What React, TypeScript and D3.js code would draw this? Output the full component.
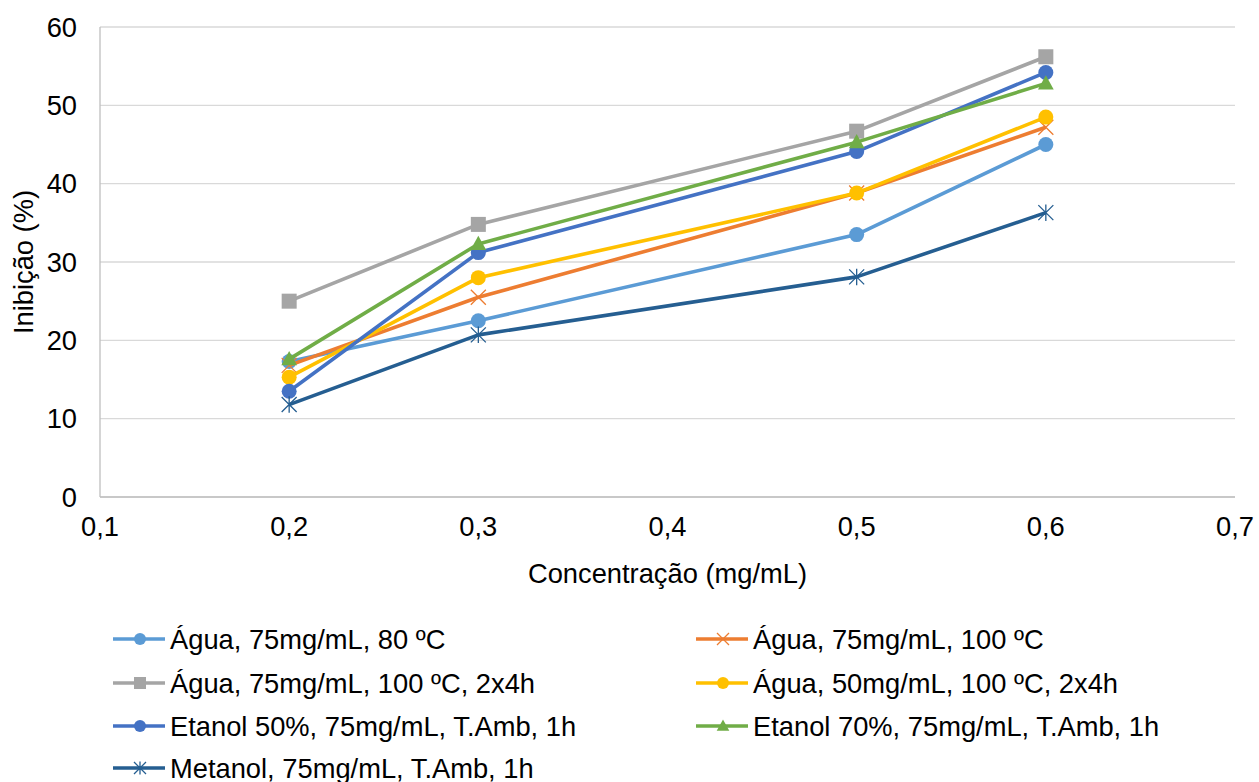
import React from "react";
import * as d3 from "d3";

const xValues = [0.2, 0.3, 0.5, 0.6];
const seriesNames = [
  "Água, 75mg/mL, 80 ºC",
  "Água, 75mg/mL, 100 ºC",
  "Água, 75mg/mL, 100 ºC, 2x4h",
  "Água, 50mg/mL, 100 ºC, 2x4h",
  "Etanol 50%, 75mg/mL, T.Amb, 1h",
  "Etanol 70%, 75mg/mL, T.Amb, 1h",
  "Metanol, 75mg/mL, T.Amb, 1h",
];
const s1 = [17.3, 22.5, 33.5, 45.0];
const s2 = [16.8, 25.5, 38.8, 47.2];
const s3 = [25.0, 34.8, 46.7, 56.2];
const s4 = [15.3, 28.0, 38.8, 48.5];
const s5 = [13.5, 31.2, 44.1, 54.2];
const s6 = [17.6, 32.3, 45.3, 52.8];
const s7 = [11.8, 20.7, 28.1, 36.3];
const seriesValues = [s1, s2, s3, s4, s5, s6, s7];
const colors = ["#5B9BD5", "#ED7D31", "#A5A5A5", "#FFC000", "#4472C4", "#70AD47", "#255E91"];
const markers = ["circle", "x", "square", "circle", "circle", "triangle", "star"];
const yTicks = [0, 10, 20, 30, 40, 50, 60];
const xTicks = [0.1, 0.2, 0.3, 0.4, 0.5, 0.6, 0.7];

function Marker({ type, cx, cy, color, s }: { type: string; cx: number; cy: number; color: string; s: number }) {
  if (type === "circle") return <circle cx={cx} cy={cy} r={s} fill={color} />;
  if (type === "square") return <rect x={cx - s} y={cy - s} width={2 * s} height={2 * s} fill={color} />;
  if (type === "triangle")
    return (
      <path
        d={`M${cx},${cy - s * 1.1} L${cx + s * 1.05},${cy + s * 0.8} L${cx - s * 1.05},${cy + s * 0.8} Z`}
        fill={color}
      />
    );
  if (type === "x")
    return (
      <path
        d={`M${cx - s},${cy - s} L${cx + s},${cy + s} M${cx - s},${cy + s} L${cx + s},${cy - s}`}
        stroke={color}
        strokeWidth={1.3}
        fill="none"
      />
    );
  if (type === "star")
    return (
      <path
        d={`M${cx - s},${cy - s} L${cx + s},${cy + s} M${cx - s},${cy + s} L${cx + s},${cy - s} M${cx},${cy - s * 1.1} L${cx},${cy + s * 1.1}`}
        stroke={color}
        strokeWidth={1.3}
        fill="none"
      />
    );
  return null;
}

export default function App() {
  const W = 1259;
  const H = 782;
  const left = 100, right = 1235, top = 27, bottom = 497;
  const x = d3.scaleLinear().domain([0.1, 0.7]).range([left, right]);
  const y = d3.scaleLinear().domain([0, 60]).range([bottom, top]);
  const line = d3
    .line<number>()
    .x((_, i) => x(xValues[i]))
    .y((d) => y(d));
  const font = "'Liberation Sans', Arial, sans-serif";
  const fs = 27.3;
  const fmt = (v: number) => (v === 0 ? "0" : v.toFixed(1).replace(".", ","));
  const legendCols = [113, 696];
  const legendRows = [639, 683, 726, 768];
  return (
    <svg width={W} height={H} style={{ position: "absolute", left: 0, top: 0, background: "#fff" }} fontFamily={font}>
      <rect width={W} height={H} fill="#fff" />
      {yTicks.map((t) => (
        <line key={t} x1={left} x2={right} y1={y(t)} y2={y(t)} stroke="#D9D9D9" strokeWidth={1.3} />
      ))}
      <line x1={left} x2={left} y1={top} y2={bottom} stroke="#BFBFBF" strokeWidth={1.3} />
      <line x1={left} x2={right} y1={bottom} y2={bottom} stroke="#BFBFBF" strokeWidth={1.3} />
      {yTicks.map((t) => (
        <text key={t} x={77} y={y(t)} dy="0.35em" textAnchor="end" fontSize={fs} fill="#000">
          {t}
        </text>
      ))}
      {xTicks.map((t) => (
        <text key={t} x={x(t)} y={526} dy="0.35em" textAnchor="middle" fontSize={fs} fill="#000">
          {fmt(t)}
        </text>
      ))}
      <text x={(left + right) / 2} y={573} dy="0.35em" textAnchor="middle" fontSize={fs} fill="#000">
        Concentração (mg/mL)
      </text>
      <text
        transform={`translate(23,${(top + bottom) / 2}) rotate(-90)`}
        dy="0.35em"
        textAnchor="middle"
        fontSize={fs}
        fill="#000"
      >
        Inibição (%)
      </text>
      {seriesValues.map((vals, si) => (
        <g key={si}>
          <path d={line(vals) || ""} fill="none" stroke={colors[si]} strokeWidth={3.6} strokeLinejoin="round" />
          {vals.map((v, i) => (
            <Marker key={i} type={markers[si]} cx={x(xValues[i])} cy={y(v)} color={colors[si]} s={7.5} />
          ))}
        </g>
      ))}
      {seriesNames.map((name, si) => {
        const lx = legendCols[si % 2];
        const ly = legendRows[Math.floor(si / 2)];
        return (
          <g key={si}>
            <line x1={lx} x2={lx + 52} y1={ly} y2={ly} stroke={colors[si]} strokeWidth={3.6} />
            <Marker type={markers[si]} cx={lx + 27} cy={ly} color={colors[si]} s={6} />
            <text x={lx + 57} y={ly} dy="0.35em" fontSize={fs} fill="#000">
              {name}
            </text>
          </g>
        );
      })}
    </svg>
  );
}
